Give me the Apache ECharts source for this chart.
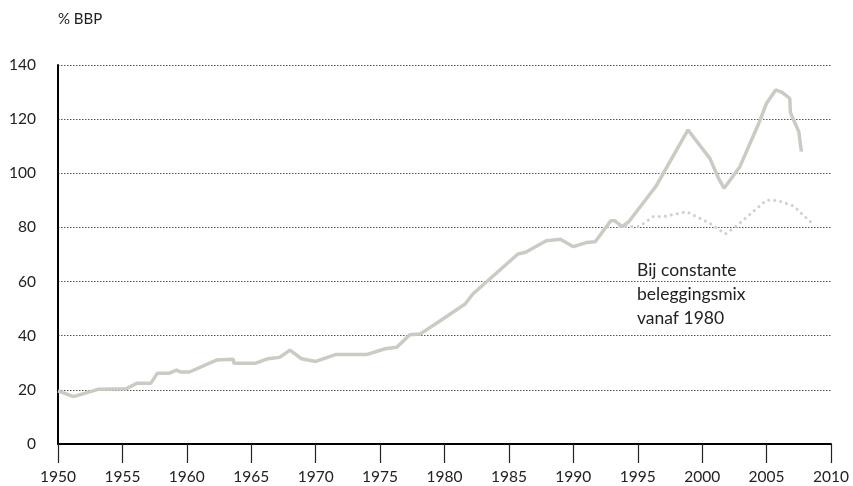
<!DOCTYPE html>
<html>
<head>
<meta charset="utf-8">
<script src="https://cdn.jsdelivr.net/npm/echarts@6/dist/echarts.min.js"></script>
<style>html,body{margin:0;padding:0;background:#fff}#c{width:853px;height:486px}</style>
</head>
<body>
<div id="c"></div>
<script>
var solidYears = [1950,1951.2,1953.1,1955.3,1956.1,1957.2,1957.7,1958.6,1959.2,1959.5,1960.2,1962.3,1963.6,1963.65,1965.3,1966.3,1967.2,1968.0,1968.9,1970.0,1971.6,1974.0,1975.4,1976.3,1977.3,1978.1,1979.7,1981.6,1982.2,1985.7,1986.3,1987.9,1989.0,1990.0,1991.0,1991.7,1992.9,1993.2,1993.8,1994.3,1996.4,1998.9,2000.6,2001.3,2001.7,2002.9,2004.4,2005.0,2005.7,2006.2,2006.8,2006.85,2007.5,2007.7];
var solidValues = [19.6,17.5,20.2,20.4,22.4,22.4,26.1,26.1,27.3,26.6,26.6,31.0,31.3,29.8,29.8,31.5,32.0,34.7,31.5,30.5,33.1,33.1,35.2,35.7,40.4,40.6,45.6,51.7,55.4,70.2,70.8,75.1,75.6,72.9,74.4,74.7,82.5,82.5,80.3,82.1,95.1,116.0,105.5,97.8,94.5,102.2,118.5,125.9,130.8,129.9,127.7,122.4,115.4,108.0];
var dottedYears = [1993.6,1995.1,1996.2,1997.0,1998.8,2000.6,2001.8,2002.6,2005.0,2005.9,2007.1,2008.4];
var dottedValues = [80.3,80.3,84.0,84.0,85.8,81.5,77.6,80.3,90.1,89.9,87.9,82.1];
var yAxisName = '% BBP';
var annotation = 'Bij constante\nbeleggingsmix\nvanaf 1980';

function pairs(xs, ys){ return xs.map(function(x,i){ return [x, ys[i]]; }); }

var chart = echarts.init(document.getElementById('c'));
var FONT = 'Lato, "Noto Sans", sans-serif';
chart.setOption({
  animation: false,
  grid: {left: 58, right: 22, top: 65, bottom: 42, containLabel: false},
  xAxis: {
    type: 'value', min: 1950, max: 2010, interval: 5,
    axisLine: {show: true, onZero: false, lineStyle: {color: '#000', width: 2}},
    axisTick: {show: true, inside: false, length: 19, lineStyle: {color: '#222', width: 1.2}},
    axisLabel: {color: '#222', fontSize: 15.5, fontFamily: FONT, margin: 25,
      formatter: function(v){ return String(v); }},
    splitLine: {show: false}
  },
  yAxis: {
    type: 'value', min: 0, max: 140, interval: 20,
    axisLine: {show: true, lineStyle: {color: '#000', width: 2}},
    axisTick: {show: false},
    axisLabel: {color: '#222', fontSize: 15.5, fontFamily: FONT, margin: 22},
    splitLine: {show: true, lineStyle: {color: '#555', width: 1, type: [1.5, 1.5]}}
  },
  graphic: [
    {type: 'text', left: 58, top: 12, style: {text: yAxisName, fontSize: 15, fontFamily: FONT, fill: '#222'}},
    {type: 'text', left: 637, top: 258, style: {text: annotation, fontSize: 17.5, lineHeight: 24, fontFamily: FONT, fill: '#222'}}
  ],
  series: [
    {type: 'line', data: pairs(dottedYears, dottedValues), symbol: 'none', z: 3,
     lineStyle: {color: '#d0d0d0', width: 3, type: [0.1, 6], cap: 'round'}},
    {type: 'line', data: pairs(solidYears, solidValues), symbol: 'none', z: 4,
     lineStyle: {color: '#c8ccc2', width: 3.5}}
  ]
});
</script>
</body>
</html>
